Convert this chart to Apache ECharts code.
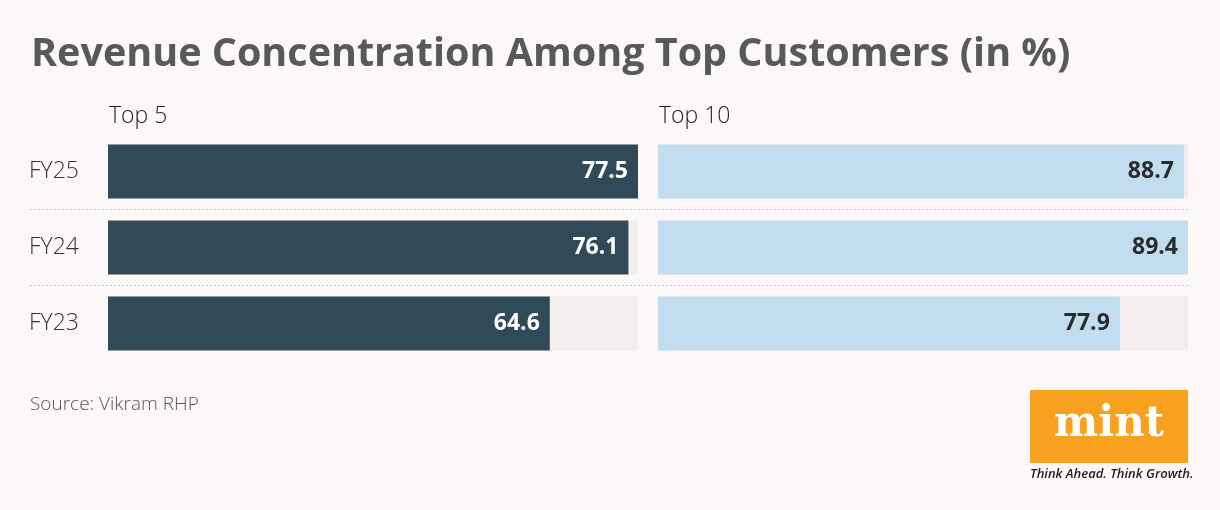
<!DOCTYPE html>
<html><head><meta charset="utf-8">
<script src="https://cdn.jsdelivr.net/npm/echarts@6/dist/echarts.min.js"></script>
<style>html,body{margin:0;padding:0;background:#fdf8f8;}#c{width:1220px;height:510px;}</style>
</head><body><div id="c"></div>
<script>
const categories = ["FY25", "FY24", "FY23"];
const top5 = [77.5, 76.1, 64.6];
const top10 = [88.7, 89.4, 77.9];
const panelTitles = ["Top 5", "Top 10"];

const chart = echarts.init(document.getElementById('c'));
const catAxis = (gi, showLabel) => ({
  type: 'category', gridIndex: gi, data: categories, inverse: true,
  axisLine: {show: false}, axisTick: {show: false}, splitLine: {show: false},
  axisLabel: {show: showLabel, align: 'left', margin: 79, color: '#333', fontSize: 23, fontFamily: 'Open Sans', fontWeight: 300}
});
const valAxis = (gi) => ({
  type: 'value', gridIndex: gi, min: 0, max: v => v.max, show: false
});
const barSeries = (gi, data, color, labelColor) => ({
  type: 'bar', xAxisIndex: gi, yAxisIndex: gi, data: data, barCategoryGap: '29%',
  itemStyle: {color: color}, showBackground: true,
  backgroundStyle: {color: '#f3eeee'},
  label: {show: true, position: 'insideRight', distance: 10, color: labelColor, fontSize: 23, fontWeight: 'bold', fontFamily: 'Open Sans'},
  emphasis: {disabled: true}, silent: true
});
chart.setOption({
  backgroundColor: '#fdf8f8',
  animation: false,
  title: [
    {text: 'Revenue Concentration Among Top Customers (in %)', left: 26, top: 30,
     textStyle: {fontFamily: 'Open Sans', fontWeight: 'bold', fontSize: 39.5, color: '#58595b'}},
    {text: panelTitles[0], left: 104, top: 100, textStyle: {fontFamily: 'Open Sans', fontWeight: 300, fontSize: 23, color: '#222'}},
    {text: panelTitles[1], left: 654, top: 100, textStyle: {fontFamily: 'Open Sans', fontWeight: 300, fontSize: 23, color: '#222'}},
    {text: 'Source: Vikram RHP', left: 25, top: 390, textStyle: {fontFamily: 'Open Sans', fontWeight: 300, fontSize: 19, color: '#555'}}
  ],
  grid: [
    {left: 108, width: 530, top: 133.5, height: 228},
    {left: 658, width: 530, top: 133.5, height: 228},
    {left: 30, width: 1158, top: 133.5, height: 228}
  ],
  xAxis: [valAxis(0), valAxis(1), {type: 'value', gridIndex: 2, show: false}],
  yAxis: [catAxis(0, true), catAxis(1, false),
    {type: 'value', gridIndex: 2, min: 0, max: 3, interval: 1, inverse: true,
     axisLine: {show: false}, axisTick: {show: false}, axisLabel: {show: false},
     splitLine: {show: true, showMinLine: false, showMaxLine: false, lineStyle: {type: [2, 2], color: '#cfcaca', width: 1}}}],
  series: [
    barSeries(0, top5, '#314a58', '#ffffff'),
    barSeries(1, top10, '#c2ddef', '#2b2b2b')
  ],
  graphic: [
    {type: 'rect', shape: {x: 1030, y: 390, width: 158, height: 73}, style: {fill: '#f8a11e'}},
    {type: 'text', style: {x: 1109, y: 425, text: 'mint', fill: '#fff', font: 'bold 42px "DejaVu Serif"', align: 'center', verticalAlign: 'middle'}},
    {type: 'text', style: {x: 1030, y: 468, text: 'Think Ahead. Think Growth.', fill: '#222', font: 'italic 600 13px "Open Sans"'}}
  ]
});
</script></body></html>
